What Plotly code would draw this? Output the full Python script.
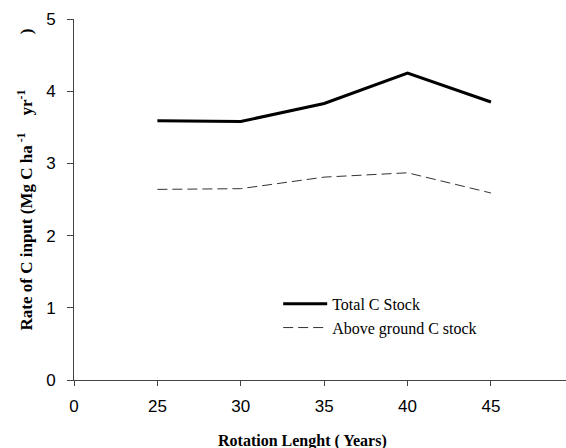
import plotly.graph_objects as go

# Rotation lengths (years) and carbon input rates (Mg C ha-1 yr-1)
axis_categories = ["0", "25", "30", "35", "40", "45"]
rotation = ["25", "30", "35", "40", "45"]
total_c_stock = [3.59, 3.58, 3.83, 4.25, 3.85]
above_ground_c_stock = [2.64, 2.65, 2.81, 2.87, 2.59]

fig = go.Figure()
fig.add_trace(go.Scatter(
    x=rotation, y=total_c_stock, mode="lines", name="Total C Stock",
    line=dict(color="black", width=3),
))
fig.add_trace(go.Scatter(
    x=rotation, y=above_ground_c_stock, mode="lines", name="Above ground C stock",
    line=dict(color="#333333", width=1, dash="10px,5px"),
))

axis_font = dict(family="Liberation Sans, Arial", size=17, color="black")
serif = "Liberation Serif, Times New Roman"

sp = "&nbsp;"
y_title = (
    "<b>Rate of C input (Mg C ha<sup> -1</sup>" + sp * 4 + "yr<sup>-1</sup>" + sp * 13 + ")</b>"
)

fig.update_layout(
    width=566, height=448,
    margin=dict(l=74, r=0, t=19, b=68),
    paper_bgcolor="white", plot_bgcolor="white",
    showlegend=True,
    legend=dict(
        x=0.415, y=0.258, xanchor="left", yanchor="top",
        bgcolor="rgba(0,0,0,0)",
        font=dict(family=serif, size=16, color="black"),
        tracegroupgap=0, itemwidth=44,
    ),
    xaxis=dict(
        type="category", categoryorder="array", categoryarray=axis_categories,
        range=[0, 5.9], showgrid=False, zeroline=False,
        showline=True, linecolor="#444444", linewidth=1,
        ticks="outside", ticklen=5, tickcolor="#444444",
        ticklabelstandoff=6,
        tickfont=axis_font,
    ),
    yaxis=dict(
        range=[0, 5], tickvals=[0, 1, 2, 3, 4, 5], showgrid=False, zeroline=False,
        showline=True, linecolor="#444444", linewidth=1,
        ticks="outside", ticklen=6, tickcolor="#444444",
        ticklabelstandoff=8,
        tickfont=axis_font,
    ),
    annotations=[
        dict(
            text=y_title,
            xref="paper", yref="paper", x=-0.1, y=0.555,
            xanchor="center", yanchor="middle", textangle=-90, showarrow=False,
            font=dict(family=serif, size=17, color="black"),
        ),
        dict(
            text="<b>Rotation Lenght ( Years)</b>",
            xref="paper", yref="paper", x=0.465, y=-0.17,
            xanchor="center", yanchor="middle", showarrow=False,
            font=dict(family=serif, size=16, color="black"),
        ),
    ],
)

fig.write_html("out.html")
